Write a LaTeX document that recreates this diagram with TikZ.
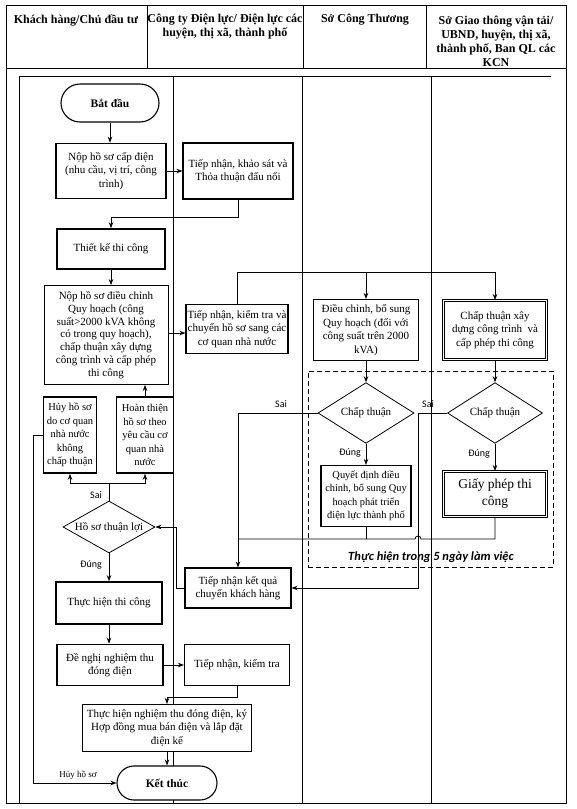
\documentclass[tikz,border=0pt]{standalone}
\usepackage{fontspec}
\setmainfont{Liberation Serif}
\newfontfamily\lblfont{Carlito}
\usetikzlibrary{arrows.meta,shapes.geometric,shapes.misc,calc}
\begin{document}
\begin{tikzpicture}[x=1pt,y=-1pt,
  every node/.style={font=\fontsize{11}{13.5}\selectfont, align=center, inner sep=1pt},
  sz/.style 2 args={minimum width=#1pt, minimum height=#2pt},
  box/.style={draw, line width=0.8pt, fill=white, rectangle},
  tbox/.style={draw, line width=1.6pt, fill=white, rectangle},
  dbox/.style={draw, line width=0.9pt, double, double distance=0.9pt, fill=white, rectangle},
  term/.style={draw, line width=1.1pt, fill=white, rounded rectangle, font=\fontsize{11.5}{13}\selectfont\bfseries},
  dia/.style={draw, line width=0.8pt, fill=white, diamond, inner sep=0pt},
  lbl/.style={font=\lblfont\fontsize{10}{12}\selectfont, inner sep=0pt},
  hdr/.style={font=\fontsize{12}{14}\selectfont\bfseries, inner sep=0pt},
  frame/.style={line width=0.8pt},
  arr/.style={line width=0.8pt, -{Stealth[length=6pt,width=4.5pt]}},
  ln/.style={line width=0.8pt}]
\useasboundingbox (0,0) rectangle (576,809);
% table frame
\draw[frame] (6,5) rectangle (566,803);
\draw[frame] (6,68) -- (566,68);
\draw[frame] (147,5) -- (147,68);
\draw[frame] (303,5) -- (303,68);
\draw[frame] (426,5) -- (426,68);
\draw[frame] (19,76) -- (551,76);
\draw[frame] (19,76) -- (19,803);
\draw[frame] (173,76) -- (173,803);
\draw[frame] (302,76) -- (302,803);
\draw[frame] (431,76) -- (431,803);
% headers
\node[hdr] (h1) at (76,20) {Khách hàng/Chủ đầu tư};
\node[hdr] (h2) at (225,27) {Công ty Điện lực/ Điện lực các\\huyện, thị xã, thành phố};
\node[hdr] (h3) at (365,20) {Sở Công Thương};
\node[hdr] (h4) at (496,41) {Sở Giao thông vận tải/\\UBND, huyện, thị xã,\\thành phố, Ban QL các\\KCN};
% dashed group
\node[draw, dash pattern=on 5pt off 3pt, line width=0.8pt, sz={245}{196}, inner sep=0pt] (grp) at (430.5,469) {};
\node[font=\lblfont\fontsize{12.5}{14}\selectfont\bfseries\itshape, inner sep=0pt] (grpl) at (431,557) {Thực hiện trong 5 ngày làm việc};
% nodes
\node[term, sz={100}{38}] (start) at (110,103) {Bắt đầu};
\node[tbox, sz={110}{55}] (n1) at (111,171) {Nộp hồ sơ cấp điện\\(nhu cầu, vị trí, công\\trình)};
\node[box, line width=1.1pt, sz={110}{56}] (n2) at (238,171) {Tiếp nhận, khảo sát và\\Thỏa thuận đấu nối};
\node[tbox, sz={108}{40}] (n3) at (111,249) {Thiết kế thi công};
\node[box, sz={124}{99}, font=\fontsize{11}{12.8}\selectfont] (n4) at (106,335) {Nộp hồ sơ điều chỉnh\\Quy hoạch (công\\suất>2000 kVA không\\có trong quy hoạch),\\chấp thuận xây dựng\\công trình và cấp phép\\thi công};
\node[box, line width=1.1pt, sz={102}{49}, inner sep=0pt] (n5) at (237,329) {Tiếp nhận, kiểm tra và\\chuyển hồ sơ sang các\\cơ quan nhà nước};
\node[box, line width=1.1pt, sz={105}{61}] (n6) at (366,330) {Điều chỉnh, bổ sung\\Quy hoạch (đối với\\công suất trên 2000\\kVA)};
\node[dbox, sz={103}{59}] (n7) at (495,330) {Chấp thuận xây\\dựng công trình~ và\\cấp phép thi công};
\node[dia, sz={96}{60}] (d1) at (366,413) {Chấp thuận};
\node[dia, sz={95}{59}] (d2) at (495,413) {Chấp thuận};
\node[box, line width=1.1pt, sz={90}{61}, inner sep=0pt, font=\fontsize{10.4}{13.5}\selectfont] (n8) at (366,496) {Quyết định điều\\chỉnh, bổ sung Quy\\hoạch phát triển\\điện lực thành phố};
\node[dbox, sz={103}{45}, font=\fontsize{13.5}{17}\selectfont] (n9) at (495,494) {Giấy phép thi\\công};
\node[box, line width=1.1pt, sz={106}{40}] (n10) at (238,588) {Tiếp nhận kết quả\\chuyển khách hàng};
\node[dia, sz={92}{52}, aspect=1.8] (d3) at (109,527) {Hồ sơ thuận lợi};
\node[tbox, sz={53}{76}, inner sep=0pt, font=\fontsize{10.5}{13.5}\selectfont] (n11) at (70,435) {Hủy hồ sơ\\do cơ quan\\nhà nước\\không\\chấp thuận};
\node[tbox, sz={57}{76}, inner sep=0pt, font=\fontsize{10.5}{13.5}\selectfont] (n12) at (145,435) {Hoàn thiện\\hồ sơ theo\\yêu cầu cơ\\quan nhà\\nước};
\node[tbox, sz={106}{42}] (n13) at (109,603) {Thực hiện thi công};
\node[tbox, sz={106}{41}] (n14) at (110,665) {Đề nghị nghiệm thu\\đóng điện};
\node[box, line width=1.1pt, sz={105}{41}] (n15) at (237,665) {Tiếp nhận, kiểm tra};
\node[box, line width=1.1pt, sz={169}{47}] (n16) at (167,728) {Thực hiện nghiệm thu đóng điện, ký\\Hợp đồng mua bán điện và lắp đặt\\điện kế};
\node[term, sz={102}{34}] (end) at (167,783) {Kết thúc};
% connectors
\draw[arr] (start.south) -- (start.south |- n1.north);
\draw[arr] (n1.east) -- (n2.west);
\draw[arr] (n2.south) -- ++(0,18) -| (n3.north);
\draw[arr] (n3.south) -- (n3.south |- n4.north);
\draw[arr] (n4.east |- 0,333) -- (n5.west |- 0,333);
\draw[ln] (n5.north) -- ++(0,-32) coordinate (t1);
\draw[arr] (t1) -| (n7.north);
\draw[arr] (n6.north |- t1) -- (n6.north);
\draw[arr] (n6.south) -- (d1.north);
\draw[arr] (n7.south) -- (d2.north);
\draw[arr] (d1.south) -- (n8.north);
\draw[arr] (d2.south) -- (n9.north);
\draw[arr] (d1.west) -- (238,413) -- (n10.north);
\draw[ln] (n8.south) -- (n8.south |- 0,539);
\draw[ln] (n9.south) -- (n9.south |- 0,539) -- (421,539) arc[start angle=0, end angle=-180, radius=3] -- (238,539);
\draw[arr] (d2.west) -- ++(-28.5,0) coordinate (c2) -- (c2 |- n10.east) -- (n10.east);
\draw[arr] (n10.west) -- ++(-8,0) |- (d3.east);
\draw[ln] (d3.north) -- ++(0,-17) coordinate (sb);
\draw[arr] (sb) -| (n11.south);
\draw[arr] (sb) -| (n12.south);
\draw[arr] (n12.north) -- (n12.north |- n4.south);
\draw[arr] (n11.west) -- ++(-9,0) |- (end.west);
\draw[arr] (d3.south) -- (n13.north);
\draw[arr] (n13.south) -- (n13.south |- n14.north);
\draw[arr] (n14.east) -- (n15.west);
\draw[arr] (n15.south) -- ++(0,11) -| (n16.north);
\draw[arr] (n16.south) -- (end.north);
% labels
\node[lbl] (s3) at (96,495) {Sai};
\node[lbl] (s1) at (281,404) {Sai};
\node[lbl] (s2) at (428,404) {Sai};
\node[lbl] (y3) at (91,565) {Đúng};
\node[lbl] (y1) at (350,453) {Đúng};
\node[lbl] (y2) at (479,454) {Đúng};
\node[font=\fontsize{9}{10}\selectfont, inner sep=0pt] (hl) at (78,775) {Hủy hồ sơ};
\end{tikzpicture}
\end{document}
